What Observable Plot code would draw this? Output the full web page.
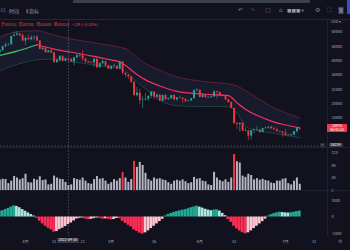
<!DOCTYPE html>
<html>
<head>
<meta charset="utf-8">
<script src="https://cdn.jsdelivr.net/npm/d3@7"></script>
<script src="https://cdn.jsdelivr.net/npm/@observablehq/plot@0.6"></script>
<style>
  html, body { margin: 0; padding: 0; background: #12121e; }
  #chart { position: relative; width: 350px; height: 250px; overflow: hidden; background: #12121e;
           font-family: "Noto Sans CJK SC", "Noto Sans", "DejaVu Sans", sans-serif; color: #b2b5be; }
  .pane { position: absolute; left: 0; }
  .pane svg { overflow: visible; display: block; }
  .abs { position: absolute; white-space: nowrap; line-height: 1; }
  .tb { font-size: 5px; color: #9598a1; top: 8px; }
  .icon { font-size: 6px; color: #787b86; top: 7px; font-family: "DejaVu Sans", sans-serif; }
  #legend { top: 21.5px; left: 1px; font-size: 4px; color: #f23645; }
  #legend span { margin-right: 2.5px; }
  .tag { position: absolute; font-size: 3.6px; line-height: 1.15; text-align: center; border-radius: 0.8px; color: #fff; }
</style>
</head>
<body>
<div id="chart">
  <div class="pane" id="price" style="top:20px"></div>
  <div class="pane" id="volume" style="top:147px"></div>
  <div class="pane" id="hist" style="top:190px"></div>

  <div class="abs" style="left:73px;top:0;width:237px;height:2.6px;background:#3b3e4b"></div>
  <div class="abs" style="left:347px;top:0;width:3px;height:14px;background:#3d4bd0"></div>
  <div class="abs" style="left:0;top:19px;width:350px;height:0.6px;background:#23263a"></div>
  <div class="abs icon" style="left:0.5px">⊡</div>
  <div class="abs tb" style="left:9px">时间</div>
  <div class="abs tb" style="left:26px">⫼ 指标</div>
  <div class="abs icon" style="left:238px">↶</div>
  <div class="abs icon" style="left:250px;color:#4a4d58">↷</div>
  <div class="abs icon" style="left:265px">▢</div>
  <div class="abs icon" style="left:279px">⌂</div>
  <div class="abs tb" style="left:287px;font-size:4.5px">■■■ ▾</div>
  <div class="abs icon" style="left:315px">⚙</div>
  <div class="abs icon" style="left:327px">⛶</div>
  <div class="abs icon" style="left:338px">◙</div>

  <div class="abs" id="legend"></div>
  <div class="abs" style="left:331px;top:19.5px;font-size:3.6px;color:#b2b5be">USD ▾</div>
</div>
<script>
// Daily candles, one per day starting at firstDay
const firstDay = "2022-03-23";
const firstOpen = 42364;
const closes = [
  42893,43960,44349,44500,46820,47128,47465,47063,45538,
  46281,45868,46453,46622,45555,43206,43503,42287,42783,42207,39521,40127,41166,39936,40553,40424,39716,40826,41503,41374,40527,39740,39486,39469,40458,38118,39241,39773,38609,37714,
  38469,38529,37750,39698,36575,36040,35501,34059,30296,31022,28936,29047,29283,30101,31305,29862,30425,28720,30314,29201,29445,30323,29098,29655,29562,29267,28627,28814,29445,31726,31792,
  29799,30467,29704,29833,29906,31370,31155,30214,30112,29083,28360,26762,22487,22206,22572,20381,20471,19017,20553,20599,20710,19987,21085,21231,21502,21028,20735,20281,20105,19785,
  19269,19243,19297,20231,21100,20975
];
const highs = [
  43000,44100,45000,44800,46900,48100,48200,47700,47600,
  46700,47200,47000,46900,47100,45600,43900,43900,42800,43400,42400,40600,41500,41500,40800,40700,40600,41000,41700,42100,42900,40700,39900,39800,40600,40800,39400,40300,39900,38800,
  38600,39100,38600,39900,39800,36600,36100,35600,34200,32600,32100,30000,31000,30300,31400,31400,30700,30600,30500,30700,29600,30400,30600,29800,30200,29800,29400,28900,29500,31900,32200,
  31900,30600,30600,29900,30100,31600,31500,31300,30600,30300,29400,28500,26800,23000,22700,22900,21300,20700,20600,21000,21600,20800,21200,21500,21600,21800,21500,21200,20400,20200,
  20800,19400,19600,20300,21300,21400
];
const lows = [
  41850,42600,43650,44100,44400,46700,46900,46600,45300,
  44300,45800,45600,45500,45400,43100,42800,42150,42150,42100,39300,39300,39600,39600,39800,40000,39600,38600,40600,40900,39800,39300,39300,39200,38200,37800,37900,38900,38200,37600,
  37400,38100,37500,37600,36000,35300,34800,33700,30100,29900,27800,26700,28800,28700,29500,29100,29500,28700,28700,28800,29000,29300,28900,28700,29400,28100,28300,28500,28700,29400,31300,
  29600,29600,29500,29500,29500,29900,29300,29900,29900,28900,28200,26600,22200,20900,20100,20300,20300,17700,17900,19700,20400,19800,19900,20900,20900,21000,20600,20200,19900,18700,
  19000,19000,18800,19100,19900,20600
];
// Volume, thousands
const volumes = [
  34,36,35,22,30,45,40,34,38,
  52,25,24,36,33,44,32,34,18,20,
  46,40,36,35,26,16,18,38,35,33,
  40,30,22,20,35,45,36,38,30,20,
  25,35,30,38,58,40,26,35,93,74,
  90,80,55,35,30,40,36,38,34,32,
  25,20,30,33,30,34,28,22,25,42,
  36,38,30,28,18,16,58,40,32,28,
  34,26,40,115,92,88,46,42,52,48,
  34,38,33,36,32,30,24,22,30,30,
  36,38,22,18,30,40,20
];
const volumeSpikes = ["2022-05-05", "2022-05-09", "2022-06-13"];
// Oscillator histogram
const histogram = [
  330,380,450,520,600,680,640,560,450,350,250,150,60,
  -80,-250,-420,-560,-680,-780,-920,-880,-760,-680,-580,-460,-360,-240,-120,
  -80,-60,-120,-160,-140,-100,-60,-90,-130,-110,-150,-170,-150,-90,
  -100,-260,-380,-500,-600,-780,-880,-980,-1040,-960,-840,-700,-560,-420,-280,-140,
  60,150,220,280,330,370,410,450,500,560,610,660,600,540,470,420,380,420,440,360,220,80,
  -150,-320,-560,-720,-850,-950,-1020,-960,-840,-700,-560,-420,-280,-130,
  60,140,200,250,290,270,250,240,260,290,330,360
];
// Channel: upper band, trend line, lower band
const bandDates = ["2022-03-23","2022-03-29","2022-04-05","2022-04-11","2022-04-17","2022-04-24","2022-04-30","2022-05-04","2022-05-07","2022-05-10","2022-05-13","2022-05-18","2022-05-24","2022-05-30","2022-06-05","2022-06-11","2022-06-14","2022-06-17","2022-06-21","2022-06-26","2022-07-01","2022-07-06"];
const upperBand = [46600,48100,48400,47200,46100,45200,44400,43800,43000,41000,39300,37400,35500,34600,34000,33600,33000,31700,29700,27300,25500,24100];
const trendLine = [41500,42700,44500,43300,42400,41400,40400,39700,38100,36200,34700,33000,31500,30900,30600,30300,28300,26500,24800,23200,22100,21300];
const lowerBand = [37300,39000,40300,40500,39800,39000,38300,37800,36600,34000,32200,29000,27500,27300,27300,27200,25500,21800,20600,19900,19200,18600];
const trendTurn = "2022-04-05";

const priceTicks = [24000, 28000, 32000, 36000, 40000, 44000, 48000];
const volumeTicks = [0, 40, 80, 120];
const histTicks = [-1000, 0, 1000];
const timeTicks = ["2022-04-01","2022-04-11","2022-04-21","2022-05-01","2022-05-16","2022-06-01","2022-06-13","2022-07-01","2022-07-11"];
const timeLabels = ["4月","11","21","5月","16","6月","13","7月","11"];
const crossDate = "2022-04-16";
const crossPrice = 16234;
const countdown = "06:41:53";

const UP = "#26a69a", DOWN = "#f23645";
const day = 864e5;
const t0 = new Date(firstDay + "T00:00:00Z");
const candles = closes.map((c, i) => ({
  date: new Date(+t0 + i * day),
  open: i ? closes[i - 1] : firstOpen,
  high: highs[i], low: lows[i], close: c
}));
const spikeSet = new Set(volumeSpikes.map(s => +new Date(s)));
const vol = candles.map((d, i) => ({date: d.date, v: volumes[i], spike: spikeSet.has(+d.date)}));
const hist = candles.map((d, i) => {
  const v = histogram[i], p = i ? histogram[i - 1] : v;
  const fill = v >= 0 ? (v >= p ? "#22ab94" : "#ace5dc") : (v <= p ? "#ff2d55" : "#fcc5cf");
  return {date: d.date, v, fill};
});
const bands = bandDates.map((s, i) => ({date: new Date(s), upper: upperBand[i], trend: trendLine[i], lower: lowerBand[i]}));
const turn = +new Date(trendTurn);
const trendUp = bands.filter(d => +d.date <= turn);
const trendDown = bands.filter(d => +d.date >= turn);
const cross = new Date(crossDate);
const plain = d => String(d);

const xScale = {type: "utc", domain: [new Date(Date.UTC(2022, 2, 23, 6)), new Date(Date.UTC(2022, 6, 15, 17))]};
const base = {
  width: 350, marginLeft: 0, marginRight: 23,
  style: {background: "transparent", color: "#b2b5be", fontSize: "3.8px", fontFamily: "'Noto Sans CJK SC','Noto Sans',sans-serif"}
};
const crossRule = Plot.ruleX([cross], {stroke: "#8a8d98", strokeWidth: 0.6, strokeDasharray: "1.6,1.6", strokeOpacity: 0.8});
const sep = Plot.ruleX([xScale.domain[1]], {stroke: "#262a38", strokeWidth: 0.7});

const pricePlot = Plot.plot({
  ...base, height: 127, marginTop: 0, marginBottom: 0,
  x: {...xScale, axis: null},
  y: {domain: [15820, 51266], axis: null},
  marks: [
    Plot.areaY(bands, {x: "date", y1: "lower", y2: "upper", fill: "#181b2c", curve: "monotone-x"}),
    Plot.lineY(bands, {x: "date", y: "upper", stroke: "#6e1f3f", strokeWidth: 0.8, curve: "monotone-x"}),
    Plot.lineY(bands, {x: "date", y: "lower", stroke: "#1d5248", strokeWidth: 0.8, curve: "monotone-x"}),
    Plot.lineY(trendUp, {x: "date", y: "trend", stroke: "#3fc266", strokeWidth: 1.2, curve: "monotone-x"}),
    Plot.lineY(trendDown, {x: "date", y: "trend", stroke: "#f5305e", strokeWidth: 1.2, curve: "monotone-x"}),
    crossRule,
    Plot.ruleY([crossPrice], {stroke: "#8a8d98", strokeWidth: 0.6, strokeDasharray: "1.6,1.6", strokeOpacity: 0.8}),
    Plot.ruleX(candles, {x: "date", y1: "low", y2: "high", stroke: d => d.close >= d.open ? UP : DOWN, strokeWidth: 0.6}),
    Plot.ruleX(candles, {x: "date", y1: "open", y2: d => Math.abs(d.close - d.open) < 150 ? d.open + (d.close >= d.open ? 150 : -150) : d.close,
      stroke: d => d.close >= d.open ? UP : DOWN, strokeWidth: 1.9}),
    sep,
    Plot.axisY(priceTicks, {anchor: "right", tickSize: 0, tickPadding: 4, label: null, fontSize: 3.8, tickFormat: plain})
  ]
});
document.getElementById("price").append(pricePlot);

const volumePlot = Plot.plot({
  ...base, height: 43, marginTop: 0, marginBottom: 0,
  x: {...xScale, axis: null},
  y: {domain: [0, 137.6], axis: null},
  marks: [
    crossRule,
    Plot.ruleX(vol, {x: "date", y1: 0, y2: "v", stroke: d => d.spike ? "#f23645" : "#b5b8c2", strokeWidth: 2}),
    sep,
    Plot.axisY(volumeTicks, {anchor: "right", tickSize: 0, tickPadding: 4, label: null, fontSize: 3.8, tickFormat: plain})
  ]
});
document.getElementById("volume").append(volumePlot);

const timeMap = new Map(timeTicks.map((s, i) => [+new Date(s), timeLabels[i]]));
const histPlot = Plot.plot({
  ...base, height: 60, marginTop: 0, marginBottom: 14,
  x: {...xScale, axis: null},
  y: {domain: [-1182, 1606], axis: null},
  marks: [
    crossRule,
    Plot.rectY(hist, {x1: d => new Date(+d.date - 0.48 * day), x2: d => new Date(+d.date + 0.48 * day), y1: 0, y2: "v", fill: "fill"}),
    sep,
    Plot.axisY(histTicks, {anchor: "right", tickSize: 0, tickPadding: 4, label: null, fontSize: 3.8, tickFormat: plain}),
    Plot.axisX(timeTicks.map(s => new Date(s)), {anchor: "bottom", tickSize: 0, tickPadding: 3.5, label: null, fontSize: 3.8,
      tickFormat: d => timeMap.get(+d)})
  ]
});
document.getElementById("hist").append(histPlot);

// separators between panes
const chart = document.getElementById("chart");
for (const top of [147, 190]) {
  const s = document.createElement("div");
  s.className = "abs";
  Object.assign(s.style, {left: "0px", top: top + "px", width: "350px", height: "0.6px", background: "#1e2130"});
  chart.append(s);
}

// legend for the crosshair candle
const cIdx = candles.findIndex(d => +d.date === +cross);
const cc = candles[cIdx];
const chg = cc.close - candles[cIdx - 1].close;
document.getElementById("legend").innerHTML =
  `<span>开${cc.open}</span><span>高${cc.high}</span><span>低${cc.low}</span><span>收${cc.close}</span>` +
  `<span>${chg >= 0 ? "+" : "−"}${Math.abs(chg)} (${chg >= 0 ? "+" : "−"}${Math.abs(chg / candles[cIdx - 1].close * 100).toFixed(2)}%)</span>`;

// last price tag
const last = candles[candles.length - 1];
const py = 20 + pricePlot.scale("y").apply(last.close);
const lastTag = document.createElement("div");
lastTag.className = "tag";
Object.assign(lastTag.style, {left: "327px", top: (py - 4.3) + "px", width: "20px", background: last.close >= last.open ? UP : DOWN});
lastTag.innerHTML = `${last.close}<br>${countdown}`;
chart.append(lastTag);

// crosshair tags
const cy = 20 + pricePlot.scale("y").apply(crossPrice);
const crossTag = document.createElement("div");
crossTag.className = "tag";
Object.assign(crossTag.style, {left: "328.5px", top: (cy - 2.6) + "px", width: "14px", background: "#363a45"});
crossTag.textContent = crossPrice;
chart.append(crossTag);
const plus = document.createElement("div");
plus.className = "tag";
Object.assign(plus.style, {left: "320px", top: (cy - 2.4) + "px", width: "4.5px", height: "4.5px", background: "#2a2e39", color: "#b2b5be", lineHeight: "4.5px"});
plus.textContent = "+";
chart.append(plus);

const cx = histPlot.scale("x").apply(cross);
const dateTag = document.createElement("div");
dateTag.className = "tag";
Object.assign(dateTag.style, {left: (cx - 11) + "px", top: "237.5px", width: "22px", background: "#363a45", fontSize: "3.6px", padding: "0.6px 0"});
dateTag.textContent = crossDate;
chart.append(dateTag);

const gear = document.createElement("div");
gear.className = "abs";
Object.assign(gear.style, {left: "338px", top: "238px", fontSize: "5px", color: "#787b86"});
gear.textContent = "⚙";
chart.append(gear);
</script>
</body>
</html>
